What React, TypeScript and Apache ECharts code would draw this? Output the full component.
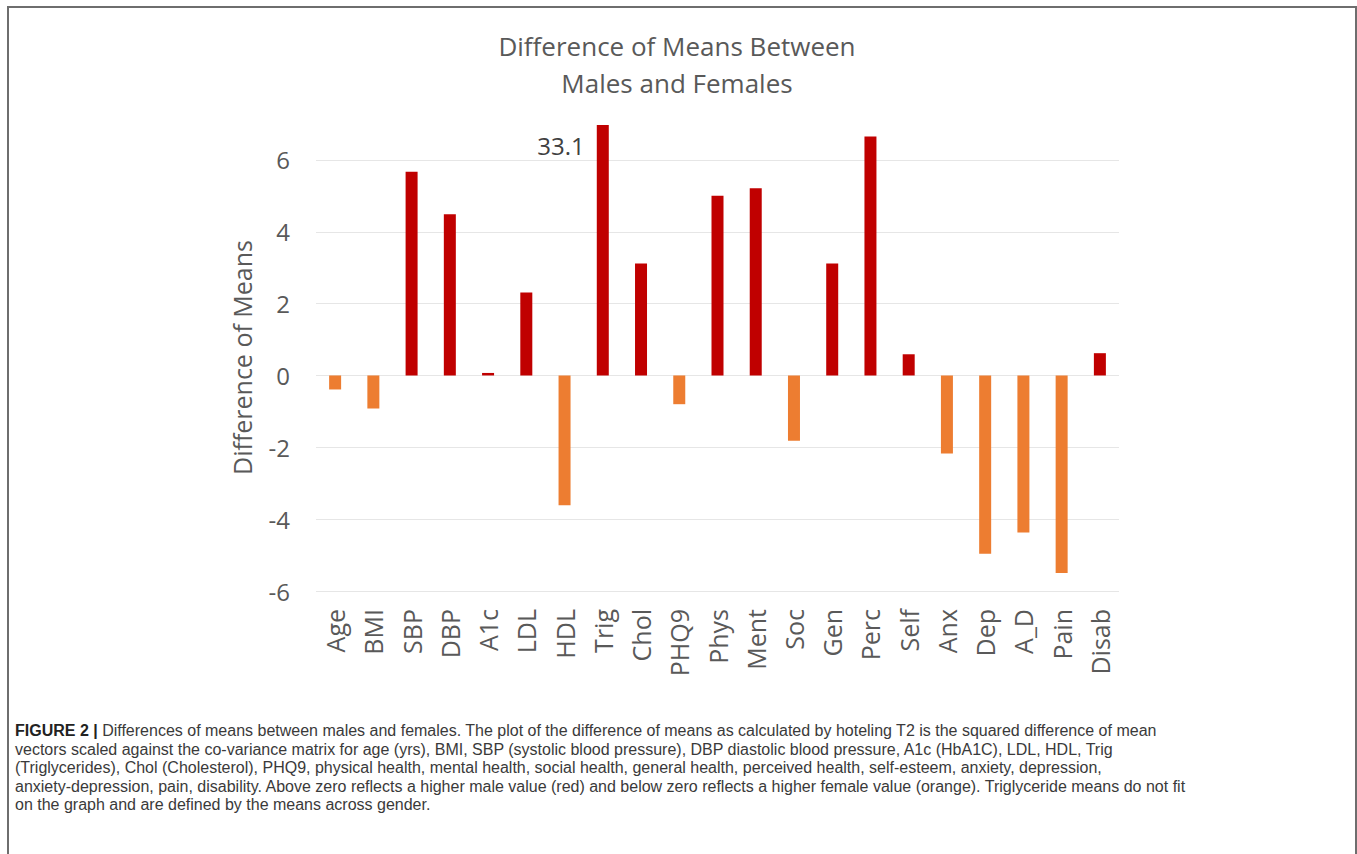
import React, { useEffect, useRef } from "react";
import * as echarts from "echarts";

const categories = ["Age", "BMI", "SBP", "DBP", "A1c", "LDL", "HDL", "Trig", "Chol", "PHQ9", "Phys", "Ment", "Soc", "Gen", "Perc", "Self", "Anx", "Dep", "A_D", "Pain", "Disab"];
const values = [-0.39, -0.92, 5.67, 4.49, 0.07, 2.31, -3.61, 6.97, 3.12, -0.8, 5.0, 5.21, -1.82, 3.12, 6.65, 0.59, -2.17, -4.96, -4.37, -5.5, 0.62];
const trigLabel = "33.1";
const trigIndex = 7;
const yTicks = { min: -6, max: 7, interval: 2 };

const titleText = "Difference of Means Between\nMales and Females";
const yAxisName = "Difference of Means";

const captionLines = [
  "Differences of means between males and females. The plot of the difference of means as calculated by hoteling T2 is the squared difference of mean",
  "vectors scaled against the co-variance matrix for age (yrs), BMI, SBP (systolic blood pressure), DBP diastolic blood pressure, A1c (HbA1C), LDL, HDL, Trig",
  "(Triglycerides), Chol (Cholesterol), PHQ9, physical health, mental health, social health, general health, perceived health, self-esteem, anxiety, depression,",
  "anxiety-depression, pain, disability. Above zero reflects a higher male value (red) and below zero reflects a higher female value (orange). Triglyceride means do not fit",
  "on the graph and are defined by the means across gender.",
];

const RED = "#C00000";
const ORANGE = "#ED7D31";
const FONT = "'Open Sans', 'Noto Sans', sans-serif";

export default function App() {
  const ref = useRef<HTMLDivElement>(null);

  useEffect(() => {
    if (!ref.current) return;
    const chart = echarts.init(ref.current, undefined, { renderer: "svg" });
    chart.setOption({
      animation: false,
      backgroundColor: "transparent",
      title: {
        text: titleText,
        left: 672,
        top: 22,
        textAlign: "center",
        textStyle: { fontFamily: FONT, fontSize: 26, fontWeight: "normal", color: "#595959", lineHeight: 37 },
      },
      grid: { left: 316, right: 238, top: 124, bottom: 99, containLabel: false },
      xAxis: {
        type: "category",
        data: categories,
        axisLine: { show: false },
        axisTick: { show: false },
        axisLabel: {
          rotate: 90,
          margin: 18,
          fontFamily: FONT,
          fontSize: 25,
          color: "#595959",
          interval: 0,
        },
        splitLine: { show: false },
      },
      yAxis: {
        type: "value",
        min: yTicks.min,
        max: yTicks.max,
        interval: yTicks.interval,
        name: yAxisName,
        nameLocation: "middle",
        nameGap: 62,
        nameTextStyle: { fontFamily: FONT, fontSize: 25, color: "#595959" },
        axisLine: { show: false },
        axisTick: { show: false },
        axisLabel: { fontFamily: FONT, fontSize: 24, color: "#595959", margin: 26, showMaxLabel: false },
        splitLine: { show: true, showMaxLine: false, lineStyle: { color: "#E6E6E6", width: 1 } },
      },
      series: [
        {
          type: "bar",
          barWidth: 12,
          data: values.map((v, i) => ({
            value: v,
            itemStyle: { color: v >= 0 ? RED : ORANGE },
            label:
              i === trigIndex
                ? {
                    show: true,
                    formatter: trigLabel,
                    position: [-12, 20],
                    align: "right",
                    verticalAlign: "middle",
                    fontFamily: FONT,
                    fontSize: 24,
                    color: "#404040",
                  }
                : { show: false },
          })),
        },
      ],
    });
    return () => chart.dispose();
  }, []);

  return (
    <div style={{ position: "absolute", left: 0, top: 0, width: 1357, height: 854, background: "#fff", overflow: "hidden" }}>
      <div
        style={{
          position: "absolute",
          left: 7,
          top: 6,
          width: 1346,
          height: 900,
          borderLeft: "2px solid #6e6e6e",
          borderTop: "2px solid #6e6e6e",
          borderRight: "2px solid #6e6e6e",
        }}
      />
      <div ref={ref} style={{ position: "absolute", left: 0, top: 0, width: 1357, height: 690 }} />
      <div
        style={{
          position: "absolute",
          left: 15,
          top: 722,
          width: 1330,
          fontFamily: "'Liberation Sans', Arial, sans-serif",
          fontSize: 16,
          lineHeight: "18.5px",
          color: "#3a3a3a",
          whiteSpace: "nowrap",
        }}
      >
        {captionLines.map((line, i) => (
          <div key={i}>
            {i === 0 ? <b style={{ color: "#222" }}>FIGURE 2 | </b> : null}
            {line}
          </div>
        ))}
      </div>
    </div>
  );
}
